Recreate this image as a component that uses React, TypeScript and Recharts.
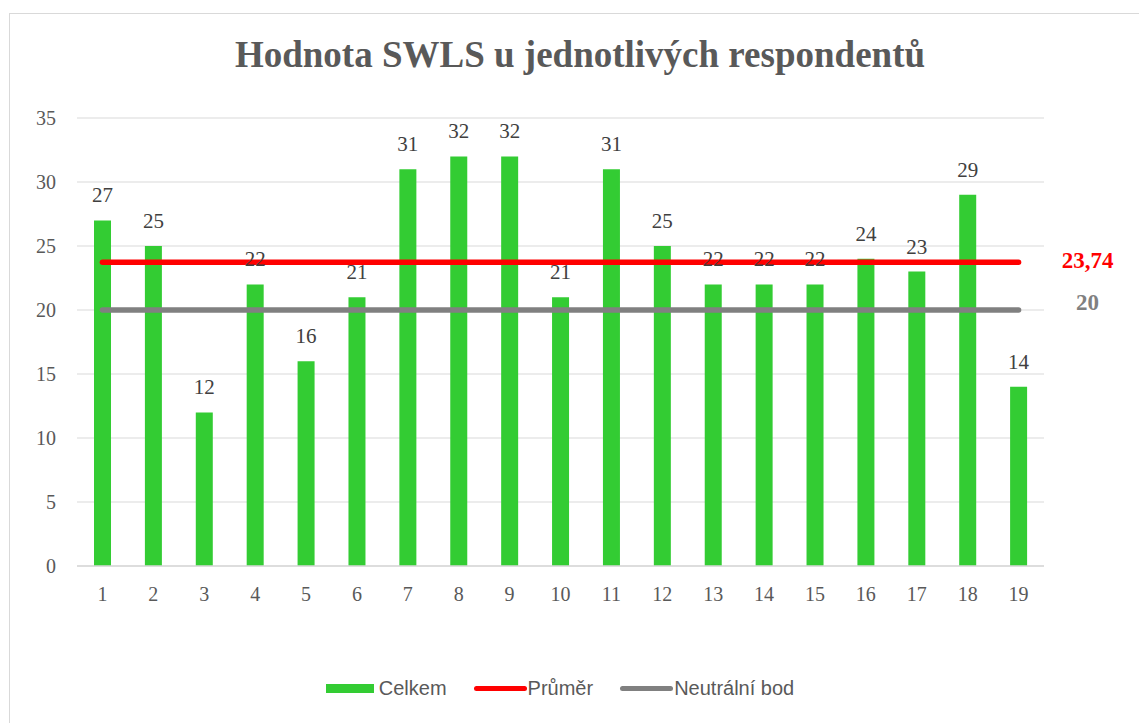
import React from 'react';
import { ComposedChart, Bar, Line, XAxis, YAxis, CartesianGrid, LabelList, Legend } from 'recharts';

const respondenti = ['1', '2', '3', '4', '5', '6', '7', '8', '9', '10', '11', '12', '13', '14', '15', '16', '17', '18', '19'];
const celkem = [27, 25, 12, 22, 16, 21, 31, 32, 32, 21, 31, 25, 22, 22, 22, 24, 23, 29, 14];
const prumer = [23.74, 23.74, 23.74, 23.74, 23.74, 23.74, 23.74, 23.74, 23.74, 23.74, 23.74, 23.74, 23.74, 23.74, 23.74, 23.74, 23.74, 23.74, 23.74];
const neutralni = [20, 20, 20, 20, 20, 20, 20, 20, 20, 20, 20, 20, 20, 20, 20, 20, 20, 20, 20];
const yTicks = [0, 5, 10, 15, 20, 25, 30, 35];

const legendItems = [
  { name: 'Celkem', color: '#33CC33', type: 'rect' },
  { name: 'Průměr', color: '#FF0000', type: 'line' },
  { name: 'Neutrální bod', color: '#808080', type: 'line' },
];

const data = respondenti.map((r, i) => ({
  name: r,
  celkem: celkem[i],
  prumer: prumer[i],
  neutralni: neutralni[i],
}));

const fmt = (v: number) => v.toFixed(2).replace(/\.?0+$/, '').replace('.', ',');

// only the last point of each line gets its value, pushed to the right of the plot
const endLabel = (color: string, dy: number) => (props: any) => {
  if (props.index !== data.length - 1) return null;
  return (
    <text
      x={props.x + 69}
      y={props.y + dy}
      textAnchor="middle"
      fill={color}
      fontFamily="'Liberation Serif', serif"
      fontWeight="bold"
      fontSize={23}
    >
      {fmt(props.value)}
    </text>
  );
};

const renderLegend = () => (
  <div style={{ display: 'flex', justifyContent: 'center', alignItems: 'center', fontFamily: "'Liberation Sans', sans-serif", fontSize: 20, color: '#595959' }}>
    {legendItems.map((it, i) => (
      <div key={it.name} style={{ display: 'flex', alignItems: 'center', marginLeft: i === 0 ? 0 : 27 }}>
        {it.type === 'rect' ? (
          <div style={{ width: 48, height: 9, background: it.color, marginRight: 5 }} />
        ) : (
          <div style={{ width: 53, height: 5, borderRadius: 3, background: it.color, marginRight: 1 }} />
        )}
        <span>{it.name}</span>
      </div>
    ))}
  </div>
);

const App: React.FC = () => {
  return (
    <div style={{ position: 'fixed', left: 0, top: 0, width: 1139, height: 723, overflow: 'hidden', background: '#fff' }}>
      <div style={{ position: 'absolute', left: 9, top: 13, width: 1160, height: 740, border: '1px solid #D9D9D9' }} />
      <div
        style={{
          position: 'absolute', left: 0, top: 34, width: 1160, textAlign: 'center',
          fontFamily: "'Liberation Serif', serif", fontWeight: 'bold', fontSize: 37, lineHeight: '41px', color: '#595959',
        }}
      >
        Hodnota SWLS u jednotlivých respondentů
      </div>
      <div style={{ position: 'absolute', left: 0, top: 0 }}>
        <ComposedChart width={1139} height={723} data={data} margin={{ top: 118, right: 95, left: 0, bottom: 101 }}>
          <CartesianGrid vertical={false} stroke="#D9D9D9" strokeWidth={1} />
          <XAxis
            dataKey="name"
            axisLine={{ stroke: '#D9D9D9', strokeWidth: 1.5 }}
            tickLine={false}
            tickMargin={15}
            height={30}
            tick={{ fill: '#595959', fontSize: 20, fontFamily: "'Liberation Serif', serif" }}
          />
          <YAxis
            domain={[0, 35]}
            ticks={yTicks}
            width={77}
            axisLine={false}
            tickLine={false}
            tickMargin={15}
            tick={{ fill: '#595959', fontSize: 20, fontFamily: "'Liberation Serif', serif" }}
          />
          <Bar dataKey="celkem" name="Celkem" fill="#33CC33" barSize={17} isAnimationActive={false}>
            <LabelList
              dataKey="celkem"
              position="top"
              offset={18}
              fill="#404040"
              fontSize={21}
              fontFamily="'Liberation Serif', serif"
            />
          </Bar>
          <Line dataKey="prumer" name="Průměr" stroke="#FF0000" strokeWidth={5.5} strokeLinecap="round" dot={false} activeDot={false} isAnimationActive={false}>
            <LabelList dataKey="prumer" content={endLabel('#FF0000', 6)} />
          </Line>
          <Line dataKey="neutralni" name="Neutrální bod" stroke="#808080" strokeWidth={5.5} strokeLinecap="round" dot={false} activeDot={false} isAnimationActive={false}>
            <LabelList dataKey="neutralni" content={endLabel('#808080', 0)} />
          </Line>
          <Legend content={renderLegend} wrapperStyle={{ position: 'absolute', top: 677, left: 0, width: 1120, height: 26 }} />
        </ComposedChart>
      </div>
    </div>
  );
};

export default App;
